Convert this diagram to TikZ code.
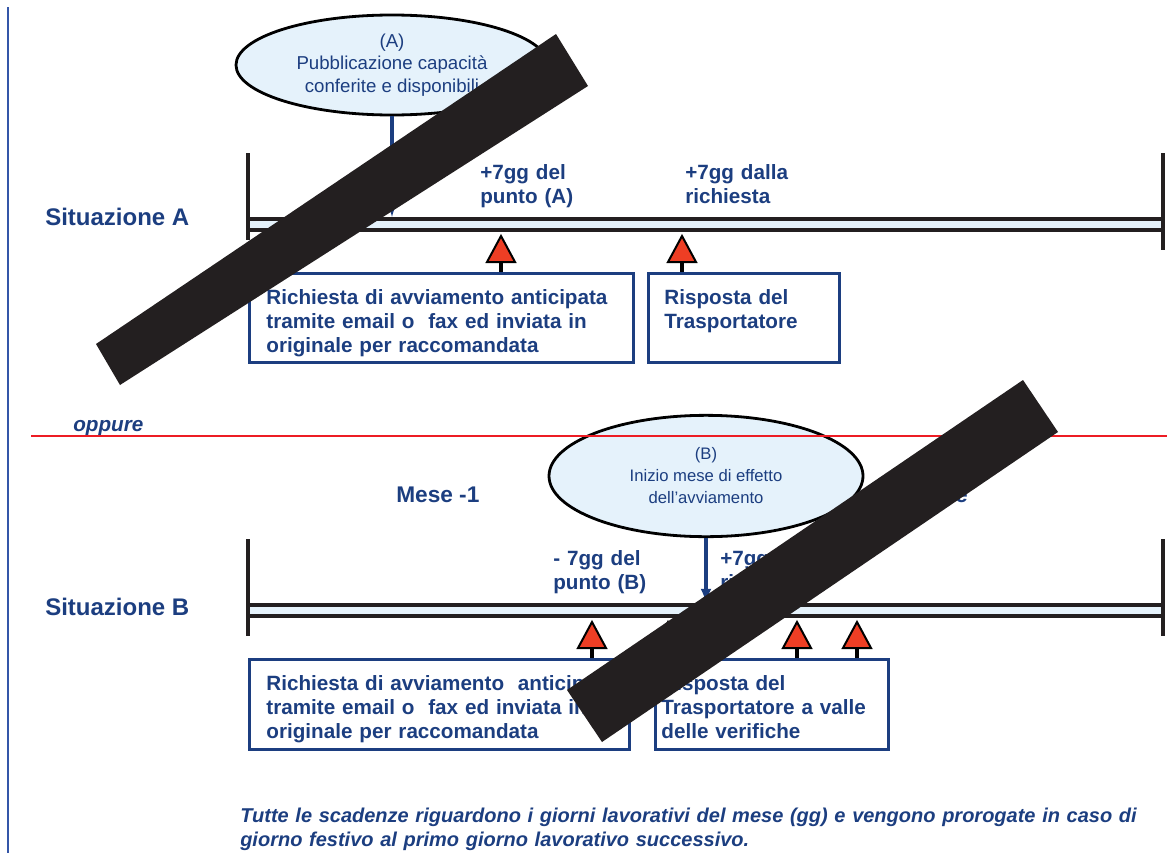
\documentclass[tikz,border=0pt]{standalone}
\usepackage{fontspec}
\setmainfont{Liberation Sans}
\usetikzlibrary{arrows,shapes.geometric}

\definecolor{darkblue}{RGB}{28,62,128}
\definecolor{paleblue}{RGB}{229,242,251}
\definecolor{sideblue}{RGB}{52,86,168}
\definecolor{cutred}{RGB}{237,28,36}
\definecolor{warnred}{RGB}{238,62,36}
\definecolor{barblack}{RGB}{35,31,32}

\begin{document}
\begin{tikzpicture}[x=0.75pt,y=-0.75pt]
	\tikzstyle{situation} = [anchor=base west,inner sep=0pt,text=darkblue,font=\bfseries\fontsize{18}{21}\selectfont]
	\tikzstyle{deadline} = [anchor=base west,inner sep=0pt,text width=110pt,align=left,text=darkblue,font=\bfseries\fontsize{15.5}{18.5}\selectfont]
	\tikzstyle{bubble} = [ellipse,draw=black,line width=2.1pt,fill=paleblue,inner sep=0pt,align=center,text=darkblue,font=\fontsize{14}{17}\selectfont]
	\tikzstyle{notebox} = [draw=darkblue,line width=2.1pt,anchor=north west,inner ysep=0pt,text height=23pt,align=left,text=darkblue,font=\bfseries\fontsize{15.5}{18}\selectfont]
	\tikzstyle{marker} = [isosceles triangle,isosceles triangle stretches,shape border rotate=90,minimum width=21pt,minimum height=19.5pt,inner sep=0pt,draw=black,line width=1.5pt,fill=warnred,anchor=south]
	\tikzstyle{stem} = [draw,line width=2.6pt,black]
	\tikzstyle{pointer} = [draw,line width=2.6pt,darkblue,-latex]
	\tikzstyle{band} = [draw=barblack,line width=2.6pt,fill=paleblue]
	\tikzstyle{tick} = [draw,line width=3.2pt,barblack]
	\tikzstyle{censor} = [fill=barblack]

	\useasboundingbox (0,0) rectangle (1167,853);

	\draw[sideblue,line width=1.6pt] (8,7) -- (8,853);

	\node[bubble,minimum width=234pt,minimum height=75pt] (pubA) at (392,65) {(A)\\Pubblicazione capacità\\conferite e disponibili};
	\node[bubble,minimum width=235.5pt,minimum height=91pt,font=\fontsize{12.5}{16.5}\selectfont] (startB) at (706,476) {(B)\\Inizio mese di effetto\\dell’avviamento};

	\coordinate (hitA) at (392,217);
	\coordinate (hitB) at (706,603);
	\draw[pointer] (pubA) -- (hitA);
	\draw[pointer] (startB) -- (hitB);

	\draw[band] (248,219) rectangle (1163,230);
	\draw[band] (248,605) rectangle (1163,616);
	\draw[tick] (248,153) -- (248,240);
	\draw[tick] (1163,153) -- (1163,250);
	\draw[tick] (248,539) -- (248,636);
	\draw[tick] (1163,539) -- (1163,636);

	\node[situation] (sitA) at (45,225) {Situazione A};
	\node[situation] (sitB) at (45,615) {Situazione B};
	\node[situation,font=\bfseries\itshape\fontsize{15.5}{18}\selectfont] (alt) at (73,431) {oppure};
	\node[situation,font=\bfseries\fontsize{17}{20}\selectfont] (prevmonth) at (396,502) {Mese -1};
	\node[situation,anchor=base east,font=\bfseries\fontsize{17}{20}\selectfont] (month) at (968,502) {Mese};

	\node[deadline] (dA1) at (480,179) {+7gg del\\punto (A)};
	\node[deadline] (dA2) at (685,179) {+7gg dalla\\richiesta};
	\node[deadline] (dB1) at (553,565) {- 7gg del\\punto (B)};
	\node[deadline] (dB2) at (720,565) {+7gg dalla\\richiesta};

	\node[notebox,inner xsep=12.75pt,text width=262.5pt,text depth=43.75pt] (boxA1) at (248,272) {Richiesta di avviamento anticipata\\tramite email o~ fax ed inviata in\\originale per raccomandata};
	\node[notebox,inner xsep=12pt,text width=119.25pt,text depth=43.75pt] (boxA2) at (647,272) {Risposta del\\Trasportatore};
	\node[notebox,inner xsep=12.75pt,text width=259.5pt,text depth=44.5pt] (boxB1) at (248,658) {\mbox{Richiesta di avviamento~ anticipata}\\tramite email o~ fax ed inviata in\\originale per raccomandata};
	\node[notebox,inner xsep=4.5pt,text width=165.75pt,text depth=44.5pt] (boxB2) at (654,658) {Risposta del\\Trasportatore a valle\\delle verifiche};

	\node[marker] (tA1) at (501,263) {};
	\node[marker] (tA2) at (682,263) {};
	\node[marker] (tB1) at (592,649) {};
	\node[marker] (tB2) at (668,649) {};
	\node[marker] (tB3) at (797,649) {};
	\node[marker] (tB4) at (857,649) {};
	\draw[stem] (tA1.south) -- (tA1.south |- boxA1.north);
	\draw[stem] (tA2.south) -- (tA2.south |- boxA2.north);
	\draw[stem] (tB1.south) -- (tB1.south |- boxB1.north);
	\draw[stem] (tB2.south) -- (tB2.south |- boxB2.north);
	\draw[stem] (tB3.south) -- (tB3.south |- boxB2.north);
	\draw[stem] (tB4.south) -- (tB4.south |- boxB2.north);

	\node[deadline,text width=720pt,font=\bfseries\itshape\fontsize{15}{18}\selectfont] (note) at (240,822) {Tutte le scadenze riguardono i giorni lavorativi del mese (gg) e vengono prorogate in caso di\\giorno festivo al primo giorno lavorativo successivo.};

	\draw[cutred,line width=1.3pt] (31,436) -- (1167,436);

	\fill[censor] (96,344) -- (556,34) -- (588,86) -- (120,385) -- cycle;
	\fill[censor] (567,690) -- (1023,380) -- (1058,432) -- (602,742) -- cycle;
\end{tikzpicture}
\end{document}
